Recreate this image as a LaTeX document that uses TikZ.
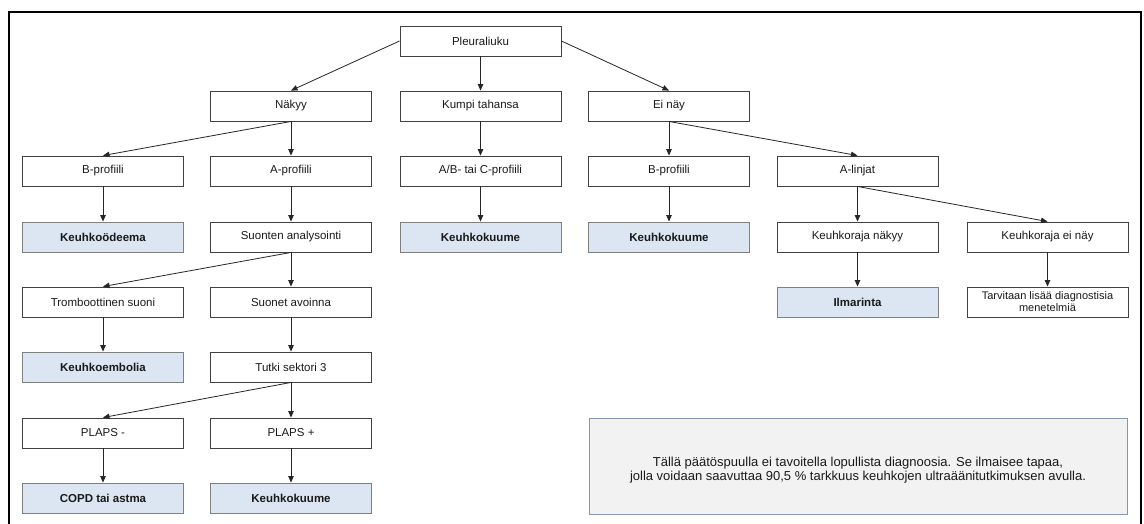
\documentclass[tikz,border=0pt]{standalone}
\usepackage{fontspec}
\setmainfont{Liberation Sans}
\usetikzlibrary{arrows.meta}
\definecolor{diagfill}{HTML}{DCE6F2}
\definecolor{notefill}{HTML}{F2F2F2}
\definecolor{noteline}{HTML}{8496B0}
\definecolor{boxline}{HTML}{404040}
\definecolor{arrline}{HTML}{262626}
\definecolor{txt}{HTML}{1A1A1A}
\begin{document}
\begin{tikzpicture}[x=1pt,y=-1pt,
  stepbox/.style={draw=boxline,line width=0.9pt,fill=white,text=txt,minimum width=161pt,minimum height=30pt,inner sep=1pt,font=\fontsize{11.5}{12}\selectfont,align=center},
  diagbox/.style={stepbox,fill=diagfill,draw=gray,font=\fontsize{11.5}{12}\selectfont\bfseries},
  notebox/.style={draw=noteline,line width=0.9pt,fill=notefill,text=txt,minimum width=538pt,minimum height=96pt,align=center,font=\fontsize{13}{14.5}\selectfont},
  arr/.style={draw=arrline,line width=0.8pt,-{Triangle[length=6.5pt,width=5.5pt]}}]
\useasboundingbox (0,0) rectangle (1144,524);
\clip (0,0) rectangle (1144,524);
\fill[white] (0,0) rectangle (1144,524);
\draw[line width=2pt,black] (9,12) rectangle (1141,560);
% row 1
\node[stepbox] (plr) at (480.5,41) {Pleuraliuku};
% row 2
\node[stepbox] (nak) at (291,106) {Näkyy};
\node[stepbox] (kum) at (480.5,106) {Kumpi tahansa};
\node[stepbox] (ein) at (669,106) {Ei näy};
% row 3
\node[stepbox] (bp1) at (103,171) {B-profiili};
\node[stepbox] (ap1) at (291,171) {A-profiili};
\node[stepbox] (abc) at (480.5,171) {A/B- tai C-profiili};
\node[stepbox] (bp2) at (669,171) {B-profiili};
\node[stepbox] (alin) at (857.5,171) {A-linjat};
% row 4
\node[diagbox] (kod) at (103,237) {Keuhkoödeema};
\node[stepbox] (sua) at (291,237) {Suonten analysointi};
\node[diagbox] (kk1) at (480.5,237) {Keuhkokuume};
\node[diagbox] (kk2) at (669,237) {Keuhkokuume};
\node[stepbox] (krn) at (857.5,237) {Keuhkoraja näkyy};
\node[stepbox] (kren) at (1047.5,237) {Keuhkoraja ei näy};
% row 5
\node[stepbox] (trs) at (103,302) {Tromboottinen suoni};
\node[stepbox] (sav) at (291,302) {Suonet avoinna};
\node[diagbox] (ilm) at (857.5,302) {Ilmarinta};
\node[stepbox,font=\fontsize{11}{12}\selectfont] (tar) at (1047.5,302) {Tarvitaan lisää diagnostisia\\menetelmiä};
% row 6
\node[diagbox] (kem) at (103,367) {Keuhkoembolia};
\node[stepbox] (tut) at (291,367) {Tutki sektori 3};
% row 7
\node[stepbox] (plm) at (103,433) {PLAPS -};
\node[stepbox] (plp) at (291,433) {PLAPS +};
% row 8
\node[diagbox] (cop) at (103,498) {COPD tai astma};
\node[diagbox] (kk3) at (291,498) {Keuhkokuume};
% note
\node[notebox] (note) at (858,466) {\rule{0pt}{18pt}Tällä päätöspuulla ei tavoitella lopullista diagnoosia. Se ilmaisee tapaa,\\jolla voidaan saavuttaa 90,5 \% tarkkuus keuhkojen ultraäänitutkimuksen avulla.};
% connectors
\draw[arr] (plr.west) -- (nak.north);
\draw[arr] (plr.south) -- (kum.north);
\draw[arr] (plr.east) -- (ein.north);
\draw[arr] (nak.south) -- (bp1.north);
\draw[arr] (nak.south) -- (ap1.north);
\draw[arr] (kum.south) -- (abc.north);
\draw[arr] (ein.south) -- (bp2.north);
\draw[arr] (ein.south) -- (alin.north);
\draw[arr] (bp1.south) -- (kod.north);
\draw[arr] (ap1.south) -- (sua.north);
\draw[arr] (abc.south) -- (kk1.north);
\draw[arr] (bp2.south) -- (kk2.north);
\draw[arr] (alin.south) -- (krn.north);
\draw[arr] (alin.south) -- (kren.north);
\draw[arr] (sua.south) -- (trs.north);
\draw[arr] (sua.south) -- (sav.north);
\draw[arr] (krn.south) -- (ilm.north);
\draw[arr] (kren.south) -- (tar.north);
\draw[arr] (trs.south) -- (kem.north);
\draw[arr] (sav.south) -- (tut.north);
\draw[arr] (tut.south) -- (plm.north);
\draw[arr] (tut.south) -- (plp.north);
\draw[arr] (plm.south) -- (cop.north);
\draw[arr] (plp.south) -- (kk3.north);
\end{tikzpicture}
\end{document}
